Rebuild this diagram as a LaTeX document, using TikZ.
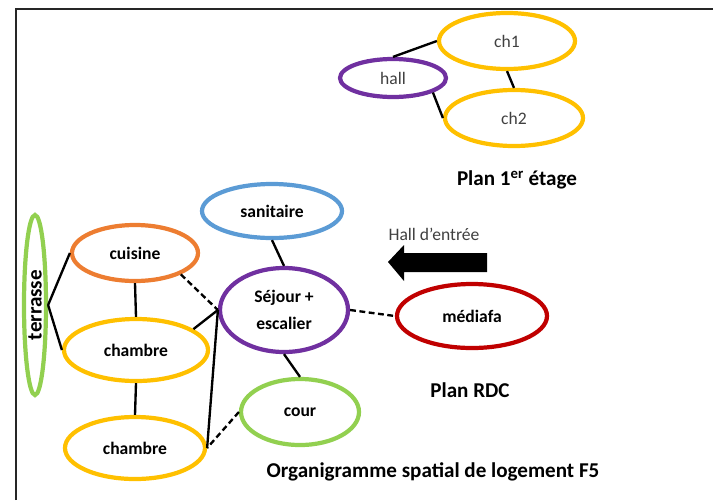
\documentclass[tikz,border=0pt]{standalone}
\usepackage{fontspec}
\setmainfont{Carlito}
\usetikzlibrary{shapes.geometric}
\definecolor{roomyellow}{HTML}{FFC000}
\definecolor{roomorange}{HTML}{ED7D31}
\definecolor{roomblue}{HTML}{5B9BD5}
\definecolor{roomgreen}{HTML}{92D050}
\definecolor{roompurple}{HTML}{7030A0}
\definecolor{roomred}{HTML}{C00000}
\tikzset{
    room/.style={ellipse,draw,line width=3.6pt,inner sep=0pt,align=center,font=\fontsize{15}{23}\selectfont\bfseries},
    roomlight/.style={room,font=\fontsize{15}{18}\selectfont,text=black!75},
    roomline/.style={line width=2pt},
    roomdash/.style={line width=2pt,dash pattern=on 5pt off 3pt},
    plantitle/.style={font=\fontsize{18}{22}\selectfont\bfseries}
}
\begin{document}
\begin{tikzpicture}[x=0.03cm,y=-0.03cm]
    \useasboundingbox (0,0) rectangle (713,500);
    \draw[line width=1.6pt,black!85] (16,500) -- (16,9) -- (713,9);
    \node[roomlight,draw=roomyellow,minimum width=4.08cm,minimum height=1.68cm] (ch1) at (507,41) {ch1};
    \node[roomlight,draw=roompurple,minimum width=3.18cm,minimum height=1.14cm] (hall) at (393,78) {hall};
    \node[roomlight,draw=roomyellow,minimum width=4.14cm,minimum height=1.68cm] (ch2) at (514,118) {ch2};
    \node[plantitle] (etage) at (517,180) {Plan 1\textsuperscript{er} étage};
    \node[room,draw=roomgreen,rotate=90,minimum width=5.4cm,minimum height=0.66cm,font=\fontsize{18}{22}\selectfont\bfseries] (terrasse) at (35,305) {terrasse};
    \node[room,draw=roomorange,minimum width=3.78cm,minimum height=1.68cm] (cuisine) at (135,253) {cuisine};
    \node[room,draw=roomblue,minimum width=4.2cm,minimum height=1.62cm] (sanitaire) at (272,211) {sanitaire};
    \node[room,draw=roompurple,minimum width=3.84cm,minimum height=2.52cm] (sejour) at (284,310) {Séjour +\\escalier};
    \node[room,draw=roomyellow,minimum width=4.32cm,minimum height=1.86cm] (chambreA) at (136,350) {chambre};
    \node[room,draw=roomyellow,minimum width=4.2cm,minimum height=1.86cm] (chambreB) at (135,448) {chambre};
    \node[room,draw=roomgreen,minimum width=3.54cm,minimum height=1.98cm] (cour) at (300,412) {cour};
    \node[room,draw=roomred,minimum width=4.5cm,minimum height=1.92cm] (mediafa) at (472,316) {médiafa};
    \node[font=\fontsize{15}{18}\selectfont,text=black!75] (entree) at (434,234) {Hall d’entrée};
    \fill (388,262) -- (404,245) -- (404,253) -- (487,253) -- (487,272) -- (404,272) -- (404,281) -- cycle;
    \node[plantitle] (rdc) at (470,390) {Plan RDC};
    \node[plantitle] (titre) at (433,472) {Organigramme spatial de logement F5};
    \draw[roomline] (hall.north) -- (ch1.west);
    \draw[roomline] (ch1.south) -- (ch2.north);
    \draw[roomline] (hall.-20) -- (ch2.west);
    \draw[roomline] (terrasse.south) -- (cuisine.west);
    \draw[roomline] (terrasse.south) -- (chambreA.west);
    \draw[roomline] (cuisine.south) -- (chambreA.north);
    \draw[roomdash] (cuisine.-25) -- (sejour.west);
    \draw[roomline] (chambreA.20) -- (sejour.west);
    \draw[roomline] (chambreB.east) -- (sejour.west);
    \draw[roomline] (chambreA.south) -- (chambreB.north);
    \draw[roomdash] (cour.west) -- (chambreB.east);
    \draw[roomline] (sanitaire.south) -- (sejour.north);
    \draw[roomline] (sejour.south) -- (cour.north);
    \draw[roomdash] (sejour.east) -- (mediafa.west);
\end{tikzpicture}
\end{document}
